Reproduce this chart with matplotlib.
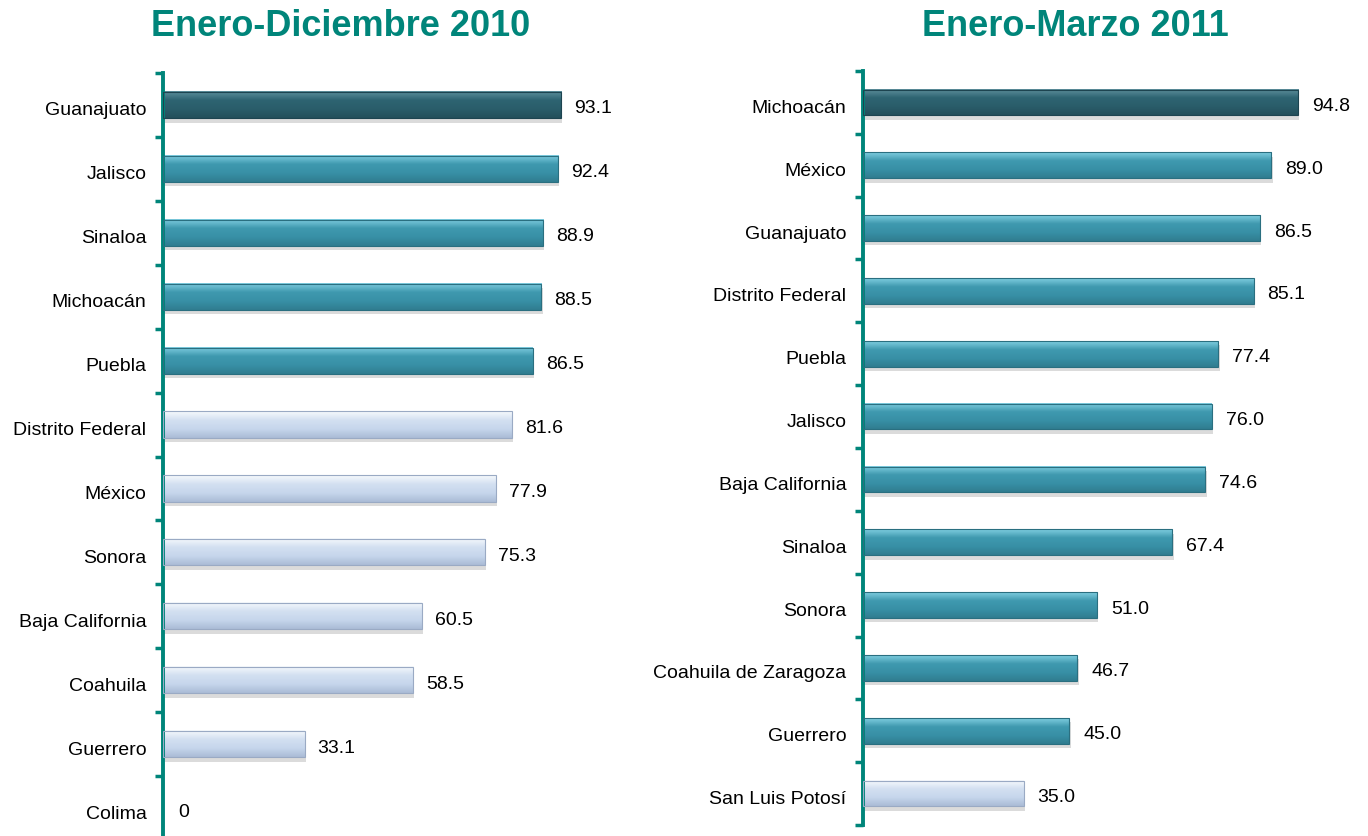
import numpy as np
import matplotlib
matplotlib.use('Agg')
import matplotlib.pyplot as plt
import matplotlib.transforms as mtransforms
from matplotlib.colors import LinearSegmentedColormap
from matplotlib.patches import Rectangle

plt.rcParams['font.family'] = ['Liberation Sans', 'DejaVu Sans']

states_2010 = ["Guanajuato", "Jalisco", "Sinaloa", "Michoacán", "Puebla",
               "Distrito Federal", "México", "Sonora", "Baja California",
               "Coahuila", "Guerrero", "Colima"]
values_2010 = [93.1, 92.4, 88.9, 88.5, 86.5, 81.6, 77.9, 75.3, 60.5, 58.5, 33.1, 0]
labels_2010 = ["93.1", "92.4", "88.9", "88.5", "86.5", "81.6", "77.9", "75.3",
               "60.5", "58.5", "33.1", "0"]

states_2011 = ["Michoacán", "México", "Guanajuato", "Distrito Federal", "Puebla",
               "Jalisco", "Baja California", "Sinaloa", "Sonora",
               "Coahuila de Zaragoza", "Guerrero", "San Luis Potosí"]
values_2011 = [94.8, 89.0, 86.5, 85.1, 77.4, 76.0, 74.6, 67.4, 51.0, 46.7, 45.0, 35.0]
labels_2011 = ["94.8", "89.0", "86.5", "85.1", "77.4", "76.0", "74.6", "67.4",
               "51.0", "46.7", "45.0", "35.0"]

TEAL = "#00857a"

# gradients (top -> bottom) and edge colour for each bar style
styles = {
    'dark': (["#5d8f9c", "#2e6472", "#2a5d6a", "#234f5b"], "#1d4450"),
    'mid': (["#7fcde0", "#3f99af", "#3890a6", "#307d90"], "#2a6f80"),
    'light': (["#f7fafd", "#d3e0f1", "#c6d6ec", "#aabcd6"], "#9aaac4"),
}


def draw_bar(ax, y, v, h, style):
    if v <= 0:
        return
    cols, edge = styles[style]
    # soft shadow below the bar
    ax.add_patch(Rectangle((0.3, y - h / 2 + 0.07), v, h, facecolor="#9a9a9a",
                           alpha=0.35, edgecolor='none', zorder=1))
    cmap = LinearSegmentedColormap.from_list("g", cols)
    grad = np.linspace(0, 1, 64).reshape(-1, 1)
    ax.imshow(grad, extent=[0, v, y + h / 2, y - h / 2], aspect='auto',
              cmap=cmap, origin='upper', zorder=2, interpolation='bilinear')
    ax.add_patch(Rectangle((0, y - h / 2), v, h, facecolor='none',
                           edgecolor=edge, linewidth=0.8, zorder=3))


def panel(ax, states, values, labels, bar_styles):
    n = len(states)
    h = 0.41
    down = mtransforms.ScaledTranslation(0, -3 / 100, ax.figure.dpi_scale_trans)
    for i, (v, lab, st) in enumerate(zip(values, labels, bar_styles)):
        draw_bar(ax, i, v, h, st)
        ax.text(v + 3.0 if v > 0 else 3.5, i, lab, va='center', ha='left',
                fontsize=14, color='black', transform=ax.transData + down)
    ax.set_xlim(0, 100)
    ax.set_ylim(n - 0.5, -0.5)
    ax.set_yticks(range(n))
    ax.set_yticklabels(states, fontsize=14)
    ax.tick_params(axis='y', which='major', length=0, pad=12)
    # nudge category names slightly down, as in the original slide
    for t in ax.get_yticklabels():
        t.set_transform(t.get_transform() + down)
    ax.set_yticks(np.arange(-0.5, n, 1.0), minor=True)
    ax.tick_params(axis='y', which='minor', length=6, width=2.5, color=TEAL,
                   direction='out')
    ax.set_xticks([])
    for s in ['top', 'right', 'bottom']:
        ax.spines[s].set_visible(False)
    ax.spines['left'].set_color(TEAL)
    ax.spines['left'].set_linewidth(2.8)
    ax.set_facecolor('none')


fig = plt.figure(figsize=(13.68, 8.37), dpi=100)
ax1 = fig.add_axes([0.1192, -0.0048, 0.3125, 0.9164])
ax2 = fig.add_axes([0.6308, 0.0131, 0.3355, 0.9009])

styles_2010 = ['dark'] + ['mid'] * 4 + ['light'] * 7
styles_2011 = ['dark'] + ['mid'] * 10 + ['light']

panel(ax1, states_2010, values_2010, labels_2010, styles_2010)
panel(ax2, states_2011, values_2011, labels_2011, styles_2011)

fig.text(341 / 1368, 1 - 26 / 837, "Enero-Diciembre 2010", ha='center', va='center',
         fontsize=26, fontweight='bold', color=TEAL)
fig.text(1075 / 1368, 1 - 26 / 837, "Enero-Marzo 2011", ha='center', va='center',
         fontsize=26, fontweight='bold', color=TEAL)

fig.savefig("out.png", dpi=100)
